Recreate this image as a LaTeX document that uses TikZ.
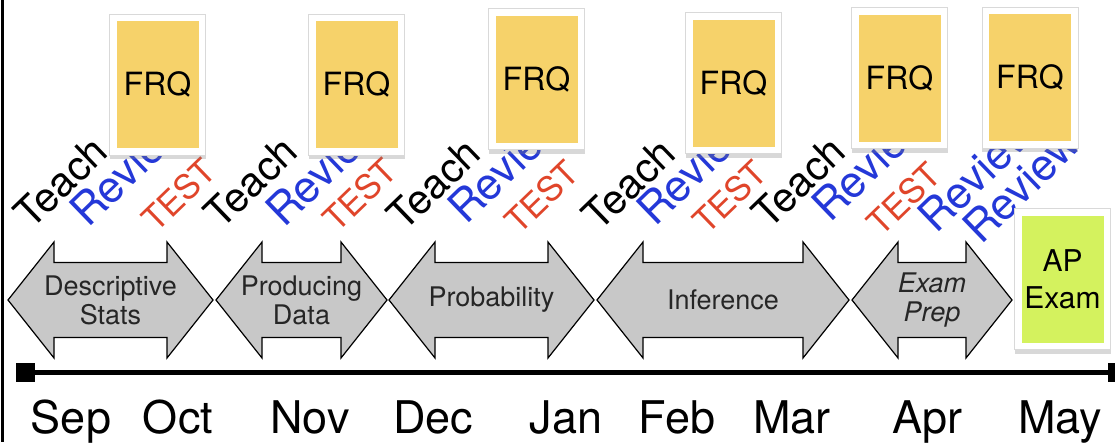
\documentclass[tikz,border=0pt]{standalone}
\usepackage{fontspec}
\setmainfont{TeX Gyre Heros}
\usepackage{tikz}
\usetikzlibrary{shadows}
\definecolor{frqyellow}{HTML}{F6D26A}
\definecolor{apgreen}{HTML}{D4F25E}
\definecolor{phasegray}{HTML}{C8C8C8}
\definecolor{revblue}{HTML}{2438D8}
\definecolor{testred}{HTML}{E0452A}
% double-headed phase arrow: left tip, right tip, node name, label
\newcommand{\phasearrow}[4]{%
  \draw[phase] (#1,300) -- (#1+46,242) -- (#1+46,262.5) -- (#2-46,262.5) -- (#2-46,242) -- (#2,300)
    -- (#2-46,358) -- (#2-46,337.5) -- (#1+46,337.5) -- (#1+46,358) -- cycle;
  \node[phaselab] (#3) at ({(#1+#2)/2},300) {#4};}

\begin{document}
\begin{tikzpicture}[x=1pt,y=-1pt,
  phase/.style={draw=black, line width=1.2pt, fill=phasegray, line join=miter},
  phaselab/.style={align=center, inner sep=0pt, font=\fontsize{27}{29}\selectfont, text=black!85},
  card/.style={rectangle, fill=white, draw=black!15, line width=0.5pt, minimum width=96pt, minimum height=141pt,
    inner sep=0pt, drop shadow={shadow xshift=0pt, shadow yshift=-4pt, opacity=0.3},
    path picture={\fill[#1] ([shift={(7pt,7pt)}]path picture bounding box.south west)
      rectangle ([shift={(-7pt,-7pt)}]path picture bounding box.north east);}},
  frq/.style={card=frqyellow, font=\fontsize{32}{32}\selectfont},
  lbl/.style={rotate=44, anchor=base west, inner sep=0pt, font=\fontsize{41}{41}\selectfont},
  teach/.style={lbl, text=black},
  rev/.style={lbl, text=revblue, font=\fontsize{44}{44}\selectfont},
  tst/.style={lbl, text=testred, font=\fontsize{34}{34}\selectfont},
  month/.style={anchor=base, inner sep=0pt, font=\fontsize{45}{45}\selectfont},
  endmark/.style={rectangle, fill=black, minimum size=19pt, inner sep=0pt}]
\fill[white] (0,0) rectangle (1115,442);
\useasboundingbox (0,0) rectangle (1115,442);
\draw[line width=3pt] (2,0) -- (2,442);

% phases
\phasearrow{8}{213}{desc}{Descriptive\\Stats}
\phasearrow{216}{387}{prod}{Producing\\Data}
\phasearrow{389}{594}{prob}{Probability}
\phasearrow{597}{849}{inf}{Inference}
\phasearrow{852}{1012}{prep}{\itshape Exam\\\itshape Prep}

% timeline
\node[endmark] (start) at (25.5,372) {};
\node[endmark] (stop) at (1117.5,372) {};
\draw[line width=5pt] (start) -- (stop);
\node[month] (sep) at (71,433) {Sep};
\node[month] (oct) at (178,433) {Oct};
\node[month] (nov) at (310,433) {Nov};
\node[month] (dec) at (433,433) {Dec};
\node[month] (jan) at (566,433) {Jan};
\node[month] (feb) at (677,433) {Feb};
\node[month] (mar) at (792,433) {Mar};
\node[month] (apr) at (927,433) {Apr};
\node[month] (may) at (1060,433) {May};

% teach / review / test labels
\node[teach] (teach1) at (31,231) {Teach};
\node[rev] (rev1) at (88,229) {Review};
\node[tst] (test1) at (156,234) {TEST};
\node[teach] (teach2) at (221,231) {Teach};
\node[rev] (rev2) at (284,229) {Review};
\node[tst] (test2) at (337,234) {TEST};
\node[teach] (teach3) at (404,233) {Teach};
\node[rev] (rev3) at (466,226) {Review};
\node[tst] (test3) at (519,236) {TEST};
\node[teach] (teach4) at (599,233) {Teach};
\node[rev] (rev4) at (655,228) {Review};
\node[tst] (test4) at (707,236) {TEST};
\node[teach] (teach5) at (769,231) {Teach};
\node[rev] (rev5) at (830,224) {Review};
\node[tst] (test5) at (881,238) {TEST};
\node[rev] (rev6) at (936,235) {Review};
\node[rev] (rev7) at (981,246) {Review};

% FRQ cards
\node[frq] (frq1) at (157.5,84.5) {FRQ};
\node[frq] (frq2) at (356.5,84.5) {FRQ};
\node[frq] (frq3) at (536.5,79) {FRQ};
\node[frq] (frq4) at (733.5,83) {FRQ};
\node[frq] (frq5) at (899.5,78) {FRQ};
\node[frq] (frq6) at (1030,77.5) {FRQ};
\node[card=apgreen, align=center, font=\fontsize{30}{37}\selectfont] (ap) at (1062.5,279) {AP\\Exam};
\end{tikzpicture}
\end{document}
